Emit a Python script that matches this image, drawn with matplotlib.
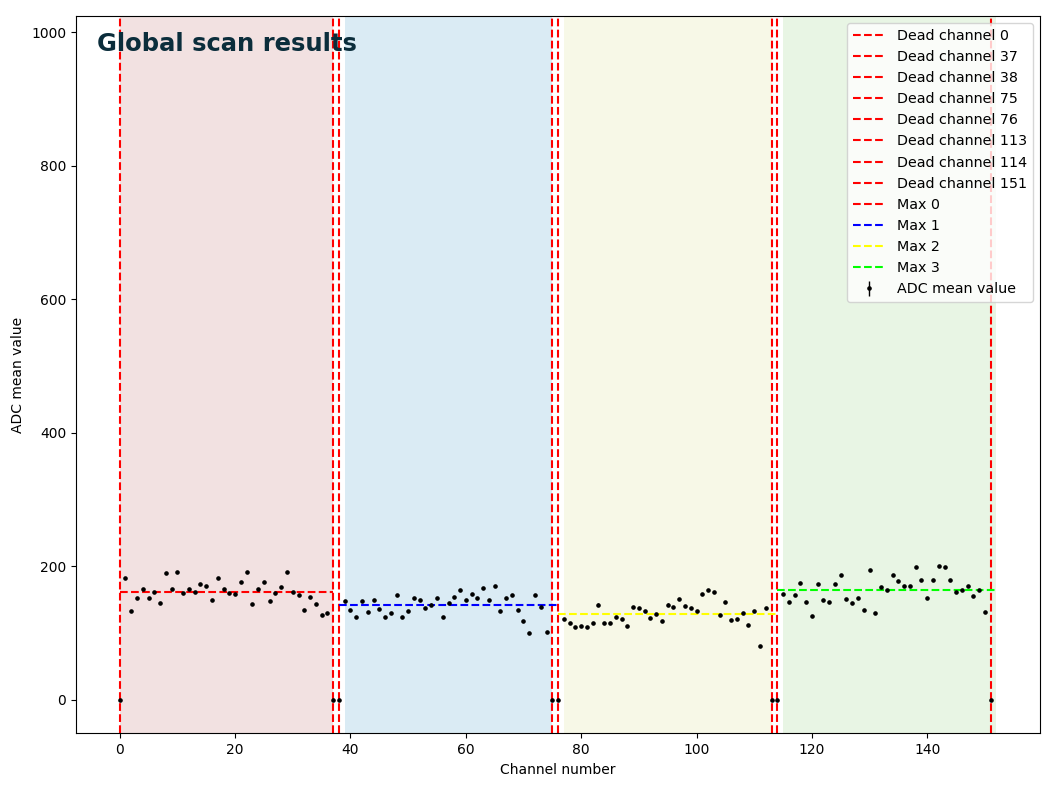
import numpy as np
import matplotlib
matplotlib.use("Agg")
import matplotlib.pyplot as plt

# ADC mean value per channel (0..151), dead channels read as 0
adc_mean = [
    0, 182.5, 133.5, 152.5, 165.5, 152.5, 161.5, 145.5, 189.5, 165.5,
    191.5, 159.5, 166.5, 161.5, 173.5, 170.5, 149.5, 182.5, 165.5, 159.5,
    158.5, 176.5, 191.5, 143.5, 166.5, 176.5, 147.5, 159.5, 168.5, 191.5,
    161.5, 157.5, 135.5, 154.5, 143.5, 127.5, 130.5, 0, 0, 148,
    135, 124, 148, 132, 149, 136, 124, 130, 157, 125,
    134, 153, 149, 138, 143, 153, 125, 145, 154, 165,
    150, 158, 152, 167, 149, 171, 134, 153, 157, 135,
    118, 101, 157, 139, 102, 0, 0, 121, 116, 110,
    111, 109, 115, 143, 115, 115, 124, 122, 111, 140,
    138, 134, 123, 129, 119, 143, 139, 151, 141, 138,
    134, 158, 164, 162, 128, 147, 120, 121, 130, 113,
    133, 81, 138, 0, 0, 158, 147, 157, 175, 147,
    126, 174, 150, 147, 174, 187, 151, 145, 153, 135,
    194, 131, 169, 164, 187, 178, 170, 171, 199, 180,
    153, 180, 201, 199, 179, 161, 165, 170, 155, 165,
    132, 0,
]
adc_err = 1.5

dead_channels = [0, 37, 38, 75, 76, 113, 114, 151]

# groups: (first channel, last channel) of the max lines and shaded spans
max_ranges = [(0, 37), (38, 76), (76, 114), (114, 152)]
span_ranges = [(0, 37), (39, 75), (77, 113), (115, 152)]
max_colors = ['red', 'blue', 'yellow', 'lime']
span_colors = ['#f2e1e1', '#daebf4', '#f7f8e7', '#e8f5e4']

channels = np.arange(len(adc_mean))
values = np.array(adc_mean)

fig, ax = plt.subplots(figsize=(10.54, 7.86), dpi=100)
fig.subplots_adjust(left=0.072, right=0.987, top=0.98, bottom=0.067)

for (a, b), c in zip(span_ranges, span_colors):
    ax.axvspan(a, b, color=c, lw=0, zorder=0)

for ch in dead_channels:
    ax.axvline(ch, color='red', linestyle='--', linewidth=1.5,
               label=f'Dead channel {ch}', zorder=1)

for i, ((a, b), c) in enumerate(zip(max_ranges, max_colors)):
    good = (channels > a) & (channels < min(b, 151)) & (values > 0)
    level = values[good].mean()
    ax.hlines(level, a, b, colors=c, linestyles='--', linewidth=1.5,
              label=f'Max {i}', zorder=2)

ax.errorbar(channels, values, yerr=adc_err, fmt='o', color='black',
            markersize=2.3, elinewidth=1, label='ADC mean value', zorder=3)

ax.set_ylim(-50, 1025)
ax.set_xlabel('Channel number')
ax.set_ylabel('ADC mean value')
ax.text(0.022, 0.96, 'Global scan results', transform=ax.transAxes,
        fontsize=17.5, fontweight='bold', color='#0b2d3b', va='center')
ax.legend(loc='upper right', fontsize=10.3, handlelength=2.3)

plt.savefig('out.png', dpi=100)
